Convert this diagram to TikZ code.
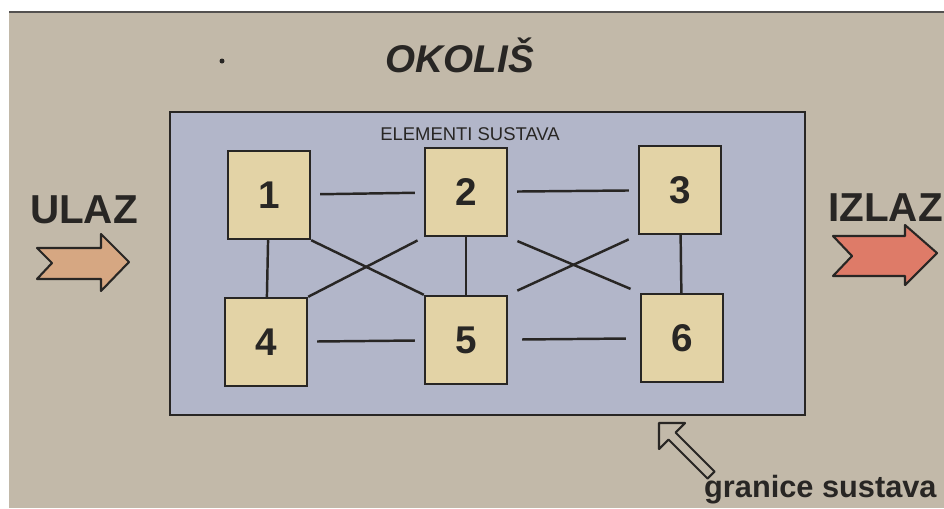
\documentclass[tikz,border=0pt]{standalone}
\usepackage{fontspec}
\setmainfont{Liberation Sans}
\usetikzlibrary{backgrounds}
\definecolor{okolis}{RGB}{194,185,169}
\definecolor{sustav}{RGB}{178,182,201}
\definecolor{element}{RGB}{227,211,166}
\definecolor{ulazboja}{RGB}{214,167,130}
\definecolor{izlazboja}{RGB}{222,123,104}
\definecolor{tekst}{RGB}{40,38,36}
\tikzset{elem/.style={draw=tekst, line width=1.4pt, fill=element, minimum width=1.64cm, minimum height=1.76cm, inner sep=0pt, font=\fontsize{22}{22}\selectfont\bfseries, text=tekst},
	veza/.style={draw=tekst, line width=1.4pt},
	razmak/.style={shorten <=#1, shorten >=#1},razmak/.default={0.18cm}}

\begin{document}
\begin{tikzpicture}[x=0.02cm, y=-0.02cm]
	\useasboundingbox (0,0) rectangle (944,508);
	\fill[white] (0,0) rectangle (944,508);
	\fill[okolis] (9,12) rectangle (944,508);
	\draw[tekst!80, line width=1.2pt] (9,12) -- (944,12);
	\draw[tekst, line width=1.4pt, fill=sustav] (170,112) rectangle (805,415);
	\node[text=tekst, font=\fontsize{22}{22}\selectfont\bfseries\itshape] (okolis) at (460,55) {OKOLIŠ};
	\fill[tekst] (222,61) circle (2.5);
	\node[text=tekst, font=\fontsize{10.5}{10.5}\selectfont] (naslov) at (470,134) {ELEMENTI SUSTAVA};
	\node[elem] (b1) at (269,195) {1};
	\node[elem] (b2) at (466,192) {2};
	\node[elem] (b3) at (680,190) {3};
	\node[elem] (b4) at (266,342) {4};
	\node[elem] (b5) at (466,340) {5};
	\node[elem] (b6) at (682,338) {6};
	\draw[veza, razmak] (b1) -- (b2);
	\draw[veza, razmak] (b2) -- (b3);
	\draw[veza, razmak] (b4) -- (b5);
	\draw[veza, razmak=0.28cm] (b5) -- (b6);
	\draw[veza] (b1) -- (b4);
	\draw[veza] (b2) -- (b5);
	\draw[veza] (b3) -- (b6);
	\draw[veza] (b1.south east) -- (b5.north west);
	\draw[veza, shorten >=0.14cm] (b4.north east) -- (b2.south west);
	\draw[veza, razmak=0.2cm] (b2.south east) -- (b6.north west);
	\draw[veza, razmak=0.2cm] (b5.north east) -- (b3.south west);
	\node[text=tekst, font=\fontsize{23}{23}\selectfont\bfseries] (ulaz) at (84,210) {ULAZ};
	\node[text=tekst, font=\fontsize{23}{23}\selectfont\bfseries, anchor=west] (izlaz) at (822,208) {IZLAZ};
	\draw[tekst, line width=1.2pt, fill=ulazboja, line join=round]
		(37,248) -- (101,248) -- (101,234) -- (129,262) -- (101,291) -- (101,279) -- (37,279) -- (52,263) -- cycle;
	\draw[tekst, line width=1.2pt, fill=izlazboja, line join=round]
		(833,236) -- (905,236) -- (905,225) -- (937,253) -- (905,285) -- (905,276) -- (833,276) -- (852,256) -- cycle;
	\draw[tekst, line width=1.2pt, fill=okolis, line join=round]
		(659,423) -- (685,423) -- (675.5,432.5) -- (714.5,471.5) -- (707.5,478.5) -- (668.5,439.5) -- (659,449) -- cycle;
	\node[text=tekst, font=\fontsize{17.5}{17.5}\selectfont\bfseries, anchor=west] (granice) at (698,490) {granice sustava};
\end{tikzpicture}
\end{document}
